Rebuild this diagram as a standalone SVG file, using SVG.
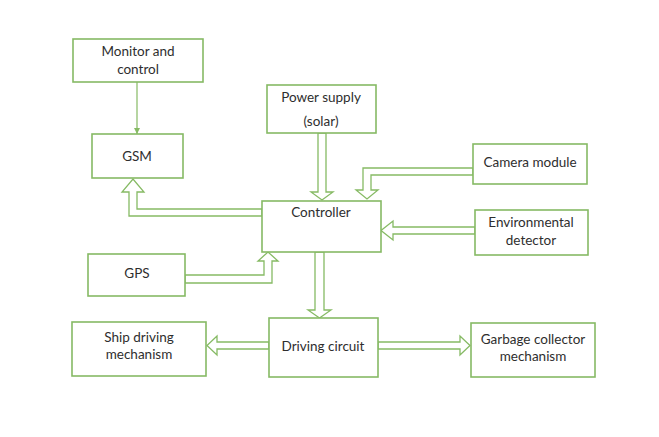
<svg xmlns="http://www.w3.org/2000/svg" width="659" height="437" viewBox="0 0 659 437">
<defs>
<style>
.box{fill:#fff;stroke:#86BA64;stroke-width:1.6}
.arr{fill:#fff;stroke:#86BA64;stroke-width:1.3;stroke-linejoin:miter}
.thin{stroke:#86BA64;stroke-width:1.2;fill:none}
text{font-family:Lato,"Open Sans","Liberation Sans",sans-serif;font-size:13.5px;fill:#2e2e2e;text-anchor:middle;dominant-baseline:central}
</style>
<marker id="ah" viewBox="0 0 10 10" refX="10" refY="5" markerWidth="6" markerHeight="6" orient="auto" markerUnits="userSpaceOnUse">
<path d="M0,0 L10,5 L0,10 z" fill="#86BA64"/>
</marker>
</defs>
<rect width="659" height="437" fill="#fff"/>
<g id="connectors">
<line class="thin" x1="137" y1="82" x2="137" y2="134" marker-end="url(#ah)"/>
<polygon class="arr" points="262,209 137,209 137,192 144,192 133,179 122,192 129,192 129,216 262,216"/>
<polygon class="arr" points="318,133 326,133 326,192 333,192 322,200 311,192 318,192"/>
<polygon class="arr" points="473,168 363,168 363,190 356,190 367,199 378,190 371,190 371,175 473,175"/>
<polygon class="arr" points="475,227 393,227 393,221 381,230.5 393,240 393,234 475,234"/>
<polygon class="arr" points="185,275 264,275 264,261 258,261 268,252 278,261 272,261 272,283 185,283"/>
<polygon class="arr" points="315,252 324,252 324,310 331,310 319.5,318 308,310 315,310"/>
<polygon class="arr" points="269,342 217,342 217,336 207,345.5 217,355 217,349 269,349"/>
<polygon class="arr" points="378,342 460,342 460,336 470,345.5 460,355 460,349 378,349"/>
</g>
<g id="monitor"><rect class="box" x="73" y="39" width="130" height="43"/><text x="138" y="51">Monitor and</text><text x="138" y="69">control</text></g>
<g id="gsm"><rect class="box" x="92" y="134" width="91" height="44"/><text x="137" y="156">GSM</text></g>
<g id="power"><rect class="box" x="267" y="85" width="109" height="48"/><text x="321" y="97">Power supply</text><text x="321" y="121">(solar)</text></g>
<g id="controller"><rect class="box" x="262" y="201" width="119" height="51"/><text x="321" y="212">Controller</text></g>
<g id="camera"><rect class="box" x="473" y="144" width="114" height="40"/><text x="530" y="162">Camera module</text></g>
<g id="env"><rect class="box" x="475" y="210" width="113" height="45"/><text x="531" y="222">Environmental</text><text x="531" y="240">detector</text></g>
<g id="gps"><rect class="box" x="88" y="254" width="97" height="42"/><text x="137" y="273">GPS</text></g>
<g id="ship"><rect class="box" x="72" y="322" width="134" height="54"/><text x="139" y="337">Ship driving</text><text x="139" y="354">mechanism</text></g>
<g id="driving"><rect class="box" x="269" y="318" width="109" height="59"/><text x="323" y="346">Driving circuit</text></g>
<g id="garbage"><rect class="box" x="471" y="323" width="124" height="54"/><text x="533" y="339">Garbage collector</text><text x="533" y="356">mechanism</text></g>
</svg>
